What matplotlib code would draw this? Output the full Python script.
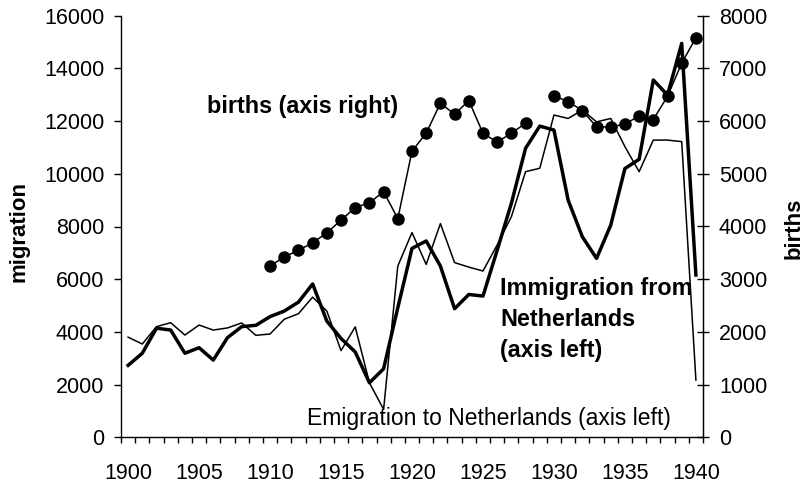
import numpy as np
import matplotlib
matplotlib.use('Agg')
import matplotlib.pyplot as plt

plt.rcParams['font.family'] = ['Liberation Sans', 'DejaVu Sans']

# 数据
years = list(range(1900, 1941))
immigration = [2730, 3190, 4140, 4070, 3190, 3400, 2930, 3780, 4200, 4250,
               4580, 4790, 5130, 5820, 4410, 3750, 3240, 2070, 2600, 4920,
               7170, 7450, 6500, 4880, 5420, 5360, 7100, 8880, 10970, 11810,
               11660, 9000, 7610, 6790, 8050, 10200, 10550, 13560, 12990, 14950,
               6160]
emigration = [3800, 3540, 4200, 4350, 3880, 4260, 4070, 4150, 4340, 3870,
              3920, 4480, 4690, 5320, 4790, 3290, 4190, 2070, 1060, 6500,
              7770, 6560, 8110, 6630, 6460, 6310, 7300, 8370, 10080, 10210,
              12230, 12100, 12420, 11970, 12100, 11030, 10080, 11280, 11280, 11220,
              2170]
births = [None] * 10 + [3250, 3420, 3550, 3690, 3880, 4120, 4360, 4450, 4660, 4150,
                        5430, 5770, 6340, 6130, 6390, 5770, 5600, 5770, 5960, None,
                        6480, 6370, 6200, 5890, 5890, 5940, 6100, 6030, 6470, 7100,
                        7580]
births = np.array([np.nan if b is None else b for b in births], dtype=float)
label_years = [1900, 1905, 1910, 1915, 1920, 1925, 1930, 1935, 1940]

W, H = 803, 484
fig = plt.figure(figsize=(W / 100, H / 100), dpi=100)
left, right, top, bottom = 121, 703, 15.7, 437.3
ax = fig.add_axes([left / W, 1 - bottom / H, (right - left) / W, (bottom - top) / H])
ax2 = ax.twinx()

x = np.arange(len(years))
ax.plot(x, emigration, color='black', lw=1.1)
ax.plot(x, immigration, color='black', lw=2.5)
ax2.plot(x, births, color='black', lw=1.1, marker='o', ms=8)

# 坐标轴
ax.set_xlim(-0.5, len(years) - 0.5)
ax.set_ylim(0, 16000)
ax2.set_ylim(0, 8000)
ax.set_yticks(range(0, 16001, 2000))
ax2.set_yticks(range(0, 8001, 1000))

ax.set_xticks([years.index(y) for y in label_years])
ax.set_xticklabels([str(y) for y in label_years])
ax.set_xticks(np.arange(-0.5, len(years), 1), minor=True)
ax.tick_params(axis='x', which='major', length=0, pad=18.5, labelsize=15.5)
ax.tick_params(axis='x', which='minor', length=4.5, width=1, direction='out')
ax.tick_params(axis='y', length=5, width=1, direction='out', pad=7, labelsize=15.5)
ax2.tick_params(axis='y', length=9, width=1, direction='inout', pad=7, labelsize=15.5)

for a in (ax, ax2):
    a.spines['top'].set_visible(False)
ax2.spines['left'].set_visible(False)
ax2.spines['bottom'].set_visible(False)
for s in ('left', 'bottom'):
    ax.spines[s].set_linewidth(1)
ax2.spines['right'].set_linewidth(1)

# 轴标题
fig.text(19 / W, 1 - 232 / H, 'migration', rotation=90, fontsize=16,
         fontweight='bold', ha='center', va='center')
fig.text(794 / W, 1 - 228 / H, 'births', rotation=90, fontsize=16,
         fontweight='bold', ha='center', va='center')

# 注释
fig.text(207 / W, 1 - 106 / H, 'births (axis right)', fontsize=16.8,
         fontweight='bold', ha='left', va='center')
for i, line in enumerate(['Immigration from', 'Netherlands', '(axis left)']):
    fig.text(500 / W, 1 - (289 + i * 31) / H, line, fontsize=16.8,
             fontweight='bold', ha='left', va='center')
fig.text(307 / W, 1 - 418 / H, 'Emigration to Netherlands (axis left)',
         fontsize=16.5, ha='left', va='center')

fig.savefig('out.png', dpi=100)
